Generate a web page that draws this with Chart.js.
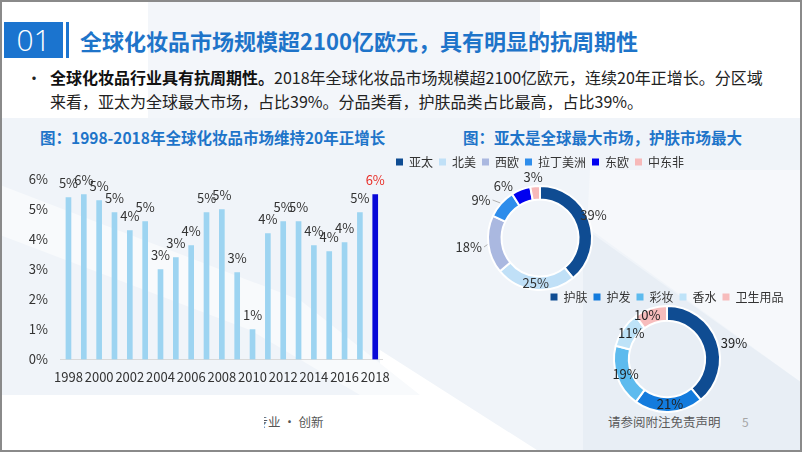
<!DOCTYPE html>
<html>
<head>
<meta charset="utf-8">
<script src="https://cdn.jsdelivr.net/npm/chart.js@4.4.0/dist/chart.umd.min.js"></script>
<style>
html,body{margin:0;padding:0;}
body{width:802px;height:452px;position:relative;overflow:hidden;background:#fff;font-family:"Noto Sans CJK SC","Noto Sans",sans-serif;}
#frame{position:absolute;left:0;top:0;width:802px;height:452px;box-sizing:border-box;border:2px solid #8a8a8a;pointer-events:none;z-index:20;}
.abs{position:absolute;white-space:nowrap;}
canvas{position:absolute;}
#bg{position:absolute;left:0;top:0;}
</style>
</head>
<body>
<svg id="bg" width="802" height="452">
  <rect x="0" y="0" width="802" height="452" fill="#ffffff"/>
  <rect x="148" y="0" width="392" height="118" fill="#f3f6fa"/>
  <polygon points="0,118 802,118 802,452 540,452 380,350 380,395 0,395" fill="#f0f4f9"/>
  <polygon points="0,185 0,235 250,330 360,395 420,395 300,300" fill="#f8fafc"/>
  <polygon points="590,170 802,170 802,383 587,227" fill="#f6f8fb"/>
  <polygon points="583,227 802,383 802,452 583,452" fill="#e8eef5"/>
</svg>

<div class="abs" style="left:4px;top:22px;width:59px;height:36px;background:#1b74cf;color:#fff;font-family:'Open Sans','Noto Sans',sans-serif;font-weight:300;font-size:30px;line-height:36px;text-align:center;">01</div>
<div class="abs" style="left:66px;top:22px;width:3px;height:36px;background:#1b74cf;"></div>
<div class="abs" style="left:80px;top:25px;font-size:22px;line-height:30px;font-weight:700;color:#1e74c9;">全球化妆品市场规模超2100亿欧元，具有明显的抗周期性</div>

<div class="abs" style="left:26px;top:65px;font-size:16px;line-height:24px;color:#222;">•</div>
<div class="abs" style="left:50px;top:65px;font-size:16px;line-height:24px;color:#222;"><b style="color:#111;">全球化妆品行业具有抗周期性。</b>2018年全球化妆品市场规模超2100亿欧元，连续20年正增长。分区域<br>来看，亚太为全球最大市场，占比39%。分品类看，护肤品类占比最高，占比39%。</div>

<div class="abs" style="left:40px;top:126px;font-size:15.5px;line-height:22px;font-weight:700;color:#1e74c9;">图：1998-2018年全球化妆品市场维持20年正增长</div>
<div class="abs" style="left:463px;top:126px;font-size:15.5px;line-height:22px;font-weight:700;color:#1e74c9;">图：亚太是全球最大市场，护肤市场最大</div>

<div class="abs" style="left:264px;top:413px;width:70px;height:20px;overflow:hidden;">
  <div class="abs" style="left:-8.5px;top:0;font-size:12.5px;line-height:18px;color:#555;">专业 · 创新</div>
</div>
<div class="abs" style="left:608px;top:413px;font-size:12.5px;line-height:18px;color:#595959;">请参阅附注免责声明</div>
<div class="abs" style="left:742px;top:413px;font-size:12px;line-height:18px;color:#a6a6a6;">5</div>

<canvas id="bar" style="left:0;top:150px;" width="400" height="240"></canvas>
<canvas id="d1" style="left:360px;top:150px;" width="360" height="148"></canvas>
<canvas id="d2" style="left:532px;top:285px;" width="270" height="150"></canvas>
<div id="frame"></div>

<script>
// ---- data ----
const years = ['1998','1999','2000','2001','2002','2003','2004','2005','2006','2007','2008','2009','2010','2011','2012','2013','2014','2015','2016','2017','2018'];
const growth = [5.4, 5.5, 5.3, 4.9, 4.3, 4.6, 3.0, 3.4, 3.8, 4.9, 5.0, 2.9, 1.0, 4.2, 4.6, 4.6, 3.8, 3.6, 3.9, 4.9, 5.5];
const regions = ['亚太','北美','西欧','拉丁美洲','东欧','中东非'];
const regionShare = [39, 25, 18, 9, 6, 3];
const categories = ['护肤','护发','彩妆','香水','卫生用品'];
const categoryShare = [39, 21, 19, 11, 10];

// ---- styles ----
const FONT = '"Noto Sans CJK SC", "Noto Sans", sans-serif';
Chart.defaults.font.family = FONT;
Chart.defaults.color = '#333';
Chart.defaults.animation = false;

const valueLabels = {
  id: 'valueLabels',
  afterDatasetsDraw(chart, args, opts) {
    const ctx = chart.ctx;
    const ds = chart.data.datasets[0];
    const meta = chart.getDatasetMeta(0);
    ctx.save();
    ctx.font = opts.font;
    ctx.textAlign = 'center';
    ctx.textBaseline = 'middle';
    meta.data.forEach((el, i) => {
      const txt = Math.round(ds.data[i]) + '%';
      let x, y;
      if (chart.config.type === 'bar') {
        x = el.x; y = el.y - opts.offset;
      } else {
        const mid = (el.startAngle + el.endAngle) / 2;
        const ang = mid + (opts.nudge ? opts.nudge[i] : 0) * Math.PI / 180;
        const r = el.outerRadius * opts.radial[i];
        x = el.x + Math.cos(ang) * r;
        y = el.y + Math.sin(ang) * r;
        if (opts.leaders && opts.leaders[i]) {
          const w = ctx.measureText(txt).width;
          const ex = el.x + Math.cos(mid) * (el.outerRadius + 1);
          const ey = el.y + Math.sin(mid) * (el.outerRadius + 1);
          const sx = x + (ex > x ? 1 : -1) * (w / 2 + 2);
          ctx.strokeStyle = '#b0b0b0';
          ctx.lineWidth = 1;
          ctx.beginPath();
          ctx.moveTo(sx, y);
          ctx.lineTo(ex, ey);
          ctx.stroke();
        }
      }
      ctx.fillStyle = opts.colors ? opts.colors[i] : opts.color;
      ctx.fillText(txt, x, y);
    });
    ctx.restore();
  }
};

// ---- bar chart ----
const barColors = years.map((y, i) => i === years.length - 1 ? '#0808d8' : '#9dd4f1');
const barLabelColors = years.map((y, i) => i === years.length - 1 ? '#e8302a' : '#333');

new Chart(document.getElementById('bar'), {
  type: 'bar',
  data: {
    labels: years,
    datasets: [{ data: growth, backgroundColor: barColors, barThickness: 5 }]
  },
  plugins: [valueLabels],
  options: {
    responsive: false,
    layout: { padding: { left: 20, right: 14.2, top: 29.5, bottom: 0.5 } },
    plugins: {
      legend: { display: false },
      tooltip: { enabled: false },
      valueLabels: { font: '13px ' + FONT, offset: 14, colors: barLabelColors }
    },
    scales: {
      x: {
        offset: true,
        grid: { display: false, drawTicks: false },
        border: { display: true, color: '#d9d9d9', width: 1 },
        ticks: {
          autoSkip: false, maxRotation: 0, padding: 10,
          font: { size: 13 }, color: '#333',
          callback: (v, i) => (i % 2 === 0 ? years[i] : '')
        },
        afterFit: (s) => { s.height = 30; }
      },
      y: {
        min: 0, max: 6,
        grid: { display: false, drawTicks: false },
        border: { display: false },
        ticks: { stepSize: 1, padding: 12.8, font: { size: 13 }, color: '#333', callback: (v) => v + '%' },
        afterFit: (s) => { s.width = 40.8; }
      }
    }
  }
});

// ---- doughnuts ----
function legendLabels(chart) {
  const items = Chart.overrides.doughnut.plugins.legend.labels.generateLabels(chart);
  items.forEach(it => { it.lineWidth = 0; it.strokeStyle = 'rgba(0,0,0,0)'; });
  return items;
}
const legendOpts = {
  position: 'top',
  labels: { font: { size: 12 }, color: '#333', boxWidth: 7, boxHeight: 7, padding: 6, generateLabels: legendLabels }
};

new Chart(document.getElementById('d1'), {
  type: 'doughnut',
  data: {
    labels: regions,
    datasets: [{
      data: regionShare,
      backgroundColor: ['#0f4c92', '#c0e0f7', '#aab8e0', '#2e8deb', '#0000f0', '#f7b9b9'],
      borderColor: '#ffffff', borderWidth: 2
    }]
  },
  plugins: [valueLabels],
  options: {
    responsive: false,
    radius: 52,
    cutout: '74%',
    layout: { padding: 0 },
    plugins: {
      legend: legendOpts,
      tooltip: { enabled: false },
      valueLabels: {
        font: '13px ' + FONT, color: '#333',
        radial: [1.12, 0.88, 1.38, 1.35, 1.23, 1.17],
        nudge: [-3.7, 0, 0, -8.6, -13.4, -1],
        leaders: [false, false, true, true, false, false]
      }
    }
  }
});

new Chart(document.getElementById('d2'), {
  type: 'doughnut',
  data: {
    labels: categories,
    datasets: [{
      data: categoryShare,
      backgroundColor: ['#0f4c92', '#137bdd', '#5dbbee', '#bee3f8', '#f7bcbc'],
      borderColor: '#ffffff', borderWidth: 2
    }]
  },
  plugins: [valueLabels],
  options: {
    responsive: false,
    radius: 53,
    cutout: '72%',
    layout: { padding: { bottom: 30 } },
    plugins: {
      legend: legendOpts,
      tooltip: { enabled: false },
      valueLabels: {
        font: '13px ' + FONT, color: '#222',
        radial: [1.3, 0.85, 0.83, 0.83, 0.9],
        nudge: [6.4, -2, 0, 1.6, -6.4]
      }
    }
  }
});
</script>
</body>
</html>
